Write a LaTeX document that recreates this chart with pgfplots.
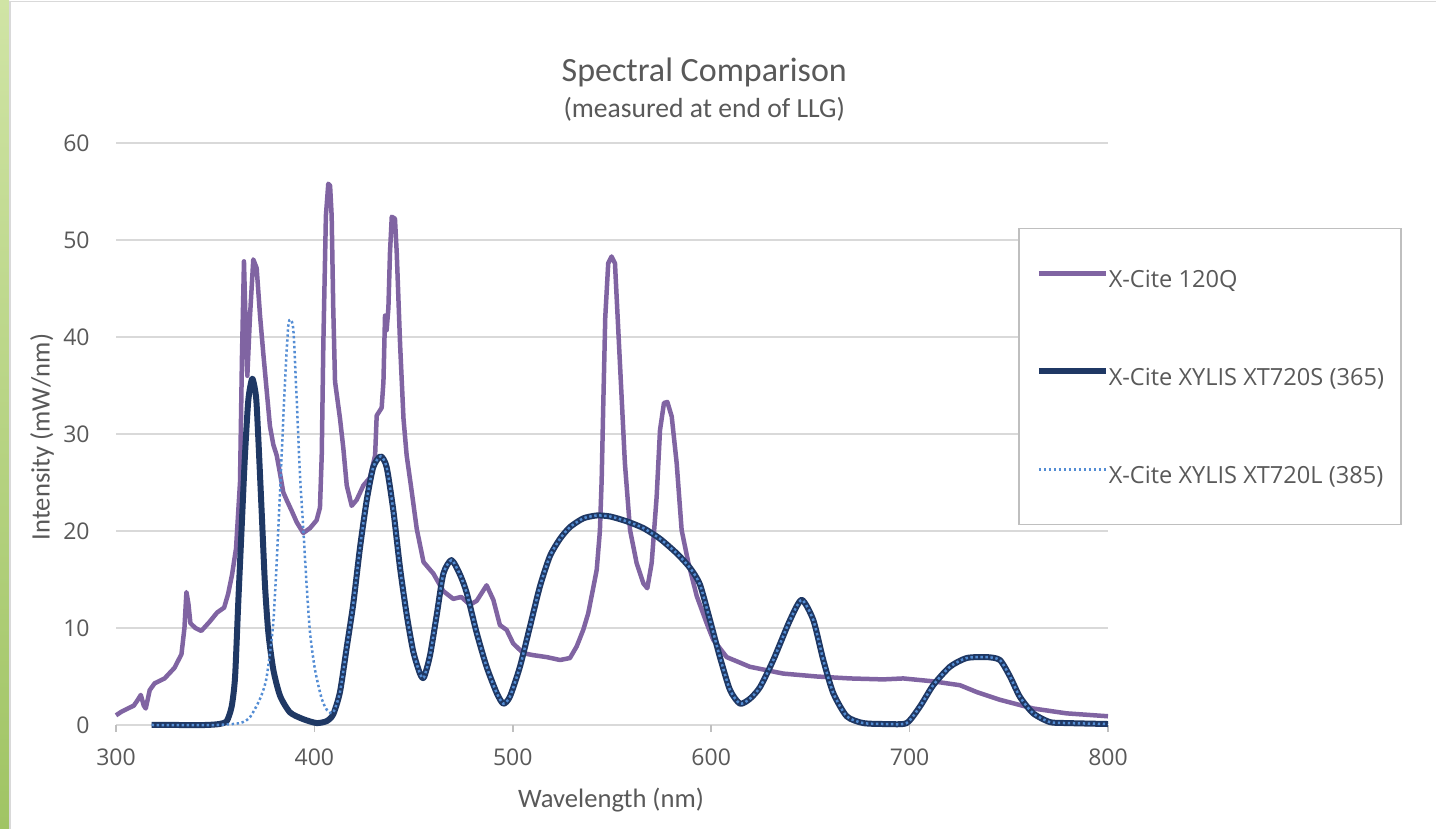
\documentclass[border=0pt]{standalone}
\usepackage{pgfplots}
\pgfplotsset{compat=1.18}
\usepackage{pgfplotstable}
\usepackage{fontspec}
\setmainfont{Open Sans}
\newfontfamily\carlito{Carlito}
\definecolor{purp}{RGB}{128,100,162}
\definecolor{navy}{RGB}{31,56,100}
\definecolor{dotblue}{RGB}{84,141,212}
\definecolor{gridc}{RGB}{217,217,217}
\definecolor{tickgray}{RGB}{191,191,191}
\definecolor{txt}{RGB}{89,89,89}
\definecolor{greenA}{RGB}{208,228,165}
\definecolor{greenB}{RGB}{160,196,100}

\pgfplotstableread{
x y
300 1.0
303 1.4
306 1.7
309 2.0
311 2.6
312.5 3.1
314 2.0
315 1.7
317 3.6
319.5 4.3
324.5 4.8
329.5 5.9
333 7.3
334.5 10
335.5 13.7
336.5 12.5
337.5 10.5
340 10.0
343 9.7
347 10.6
351 11.6
354.5 12.1
356.5 13.5
358.5 15.5
360.5 18.2
362.5 25
363.5 38
364.5 47.8
365.5 40
366.2 36
367.5 42
369.2 48
370.9 47.1
372.6 42.2
374.2 38.4
375.9 34.6
377.6 30.8
379.3 28.9
381 27.8
382.7 25.9
384.3 24.0
386 23.2
388.5 22.1
391.1 20.9
394.4 19.8
397.8 20.3
401.1 21.1
402.8 22.4
403.7 27.8
404.5 39.2
405.8 52.5
407 55.8
407.9 55.6
408.7 52.5
409.5 43
410.4 35.4
412.9 31.6
414.6 28.5
416.3 24.7
418.8 22.6
421.3 23.2
424.7 24.7
428 25.5
430.6 27.8
431.4 31.9
433.9 32.7
434.8 35.4
435.6 42.2
436.4 40.7
437.3 43
438.1 48.7
439 52.4
440.6 52.2
441.5 48.7
443.2 39.2
444.9 31.6
446.5 27.8
449.1 24
451.6 20.2
455 16.8
460 15.6
465 13.8
470 13.0
474 13.2
478.4 12.4
481.8 12.8
486.8 14.4
490.2 12.9
493.5 10.3
496.9 9.8
500.2 8.4
505.3 7.4
510.3 7.2
517.1 7.0
523.8 6.7
528.8 6.9
532.2 8.1
535.5 9.8
538 11.5
540.6 14.2
542.3 16
543.9 20
544.8 25.3
545.6 33
546.6 42
548.1 47.6
549.8 48.3
551.5 47.6
554 37.3
556.5 27
559.1 20.1
562.4 16.7
565.8 14.6
567.8 14.1
570 16.7
572.5 23.5
574.2 30.4
576.2 33.2
577.9 33.3
580.1 31.8
582.6 27
585.1 20.1
588.5 16.7
592.7 13.3
597.7 10.5
601 8.8
607.8 7.0
619.5 6.0
636.3 5.3
653.2 5.0
669.9 4.8
686.7 4.7
696.8 4.8
711.9 4.5
725.4 4.1
733.8 3.4
745.5 2.6
762.3 1.7
779.1 1.2
800 0.9
}\qtable

\pgfplotstableread{
x y
318 0
330 0
345 0
352 0.1
355.8 0.4
358.3 1.9
360 4.9
361.6 12.5
363.3 20.2
365 27.8
366.7 33.5
368.7 35.7
370.6 33.8
371.7 29.7
373.4 22.1
375.1 14.4
376.8 9.5
379.3 5.7
382.7 3.0
387.7 1.3
394.4 0.6
401.1 0.2
406.2 0.4
409.5 1.1
412.9 3.4
416.3 8.0
419.6 12.5
423 18.3
426.4 23.2
429.7 26.6
433.4 27.7
436.4 26.6
439.8 22.1
443.1 16.3
446.5 11.4
449.8 7.6
453.2 5.3
455.2 4.9
458.3 7.2
461.7 11.4
465 15.6
469.1 17.0
473.4 15.5
476.8 13.6
481.8 9.5
486.8 6.0
491.9 3.3
495.2 2.2
498.5 2.9
503.6 6.0
508.6 10.1
513.7 14.3
518.7 17.4
523.8 19.2
528.8 20.4
535.5 21.3
542.3 21.6
549 21.5
557.4 21.0
565.8 20.3
574.2 19.2
582.6 17.7
589.3 16.2
594.3 14.5
599.4 10.8
604.4 7.0
609.5 3.6
614.5 2.2
619.5 2.7
624.6 3.9
631.3 6.7
639.7 10.8
645.6 12.9
651.5 10.8
656.5 6.7
661.5 3.3
668.3 0.9
676.6 0.2
688.4 0.1
698.5 0.2
705.2 1.9
711.9 4.1
720.3 6.0
728.7 6.9
738.8 7.0
745.5 6.7
750.6 5.0
755.6 2.9
762.3 1.2
770.7 0.3
779.1 0.2
800 0.1
}\stable

\pgfplotstableread{
x y
318 0
350 0
362.5 0.2
367.5 0.8
372.6 2.7
375.9 4.9
379.3 10.6
381.8 20.2
383.5 27.8
385.2 35.4
386.8 41.1
388 41.8
389.4 40.7
391.1 33.5
392.7 25.9
394.4 20.2
396.1 14.4
397.8 9.5
400.3 5.7
403.7 2.7
406.5 1.5
409.5 1.3
412.9 3.4
416.3 8.0
419.6 12.5
423 18.3
426.4 23.2
429.7 26.6
433.4 27.7
436.4 26.6
439.8 22.1
443.1 16.3
446.5 11.4
449.8 7.6
453.2 5.3
455.2 4.9
458.3 7.2
461.7 11.4
465 15.6
469.1 17.0
473.4 15.5
476.8 13.6
481.8 9.5
486.8 6.0
491.9 3.3
495.2 2.2
498.5 2.9
503.6 6.0
508.6 10.1
513.7 14.3
518.7 17.4
523.8 19.2
528.8 20.4
535.5 21.3
542.3 21.6
549 21.5
557.4 21.0
565.8 20.3
574.2 19.2
582.6 17.7
589.3 16.2
594.3 14.5
599.4 10.8
604.4 7.0
609.5 3.6
614.5 2.2
619.5 2.7
624.6 3.9
631.3 6.7
639.7 10.8
645.6 12.9
651.5 10.8
656.5 6.7
661.5 3.3
668.3 0.9
676.6 0.2
688.4 0.1
698.5 0.2
705.2 1.9
711.9 4.1
720.3 6.0
728.7 6.9
738.8 7.0
745.5 6.7
750.6 5.0
755.6 2.9
762.3 1.2
770.7 0.3
779.1 0.2
800 0.1
}\ltable

\begin{document}
\begin{tikzpicture}
\useasboundingbox (0,0) rectangle (718pt,414.5pt);
\fill[white] (0,0) rectangle (718pt,414.5pt);
\shade[top color=greenA, bottom color=greenB] (0,0) rectangle (4.5pt,414.5pt);
\draw[gridc, line width=0.6pt] (5pt,0) -- (5pt,413.8pt) -- (718pt,413.8pt);
\begin{axis}[
  scale only axis, width=496pt, height=291pt,
  at={(58pt,52pt)}, anchor=south west,
  xmin=300, xmax=800, ymin=0, ymax=60,
  xtick={300,400,...,800}, ytick={0,10,...,60},
  axis line style={draw=none},
  ymajorgrids, grid style={gridc, line width=0.75pt},
  xtick pos=bottom, ytick pos=left,
  tick align=inside, major tick length=3.5pt,
  xtick style={tickgray, line width=0.75pt, yshift=-3.5pt},
  ytick style={draw=none},
  clip=false,
  /pgf/number format/assume math mode=true,
  /pgf/number format/set thousands separator={},
  ticklabel style={font=\fontsize{11.5}{13}\selectfont, text=txt},
  yticklabel style={inner sep=0pt, anchor=east, xshift=-13pt},
  xticklabel style={inner sep=0pt, anchor=north, yshift=-11.5pt},
  title={\carlito\fontsize{17}{20}\selectfont Spectral Comparison},
  title style={at={(axis description cs:0.593,1.0845)}, anchor=base, inner sep=0pt, text=txt},
  xlabel={\carlito\fontsize{13.3}{16}\selectfont Wavelength (nm)},
  xlabel style={at={(axis description cs:0.499,-0.1289)}, anchor=center, inner sep=0pt, text=txt},
  ylabel={\carlito\fontsize{13.3}{16}\selectfont Intensity (mW/nm)},
  ylabel style={at={(axis description cs:-0.0746,0.4948)}, anchor=center, inner sep=0pt, text=txt},
  legend style={
    at={(axis description cs:0.9093,0.8540)}, anchor=north west,
    draw=tickgray, line width=0.75pt, fill=white,
    font=\fontsize{11.8}{14}\selectfont, text=txt,
    inner xsep=8.5pt, inner ysep=18pt,
    row sep=35pt,
    nodes={inner sep=0pt, text height=8.5pt, text depth=2.5pt},
    /tikz/every even column/.append style={column sep=2.5pt},
  },
  legend cell align=left,
  legend image code/.code={\path[draw=none,fill=none] (0pt,-2.5pt) rectangle (33.5pt,8.5pt); \draw[#1] (0pt,4.2pt) -- (33.5pt,4.2pt);},
]
\addplot[purp, line width=2.25pt, line join=round] table {\qtable};
\addlegendentry{X-Cite 120Q}
\addplot[navy, line width=3pt, line join=round, smooth, tension=0.4] table {\stable};
\addlegendentry{X-Cite XYLIS XT720S (365)}
\addplot[dotblue, line width=1.25pt, dash pattern=on 1.2pt off 1.3pt, smooth, tension=0.4] table {\ltable};
\addlegendentry{X-Cite XYLIS XT720L (385)}
\node[font=\carlito\fontsize{13.8}{16}\selectfont, text=txt, anchor=base, inner sep=0pt] at (rel axis cs:0.593,1.0446) {(measured at end of LLG)};
\end{axis}
\end{tikzpicture}
\end{document}
